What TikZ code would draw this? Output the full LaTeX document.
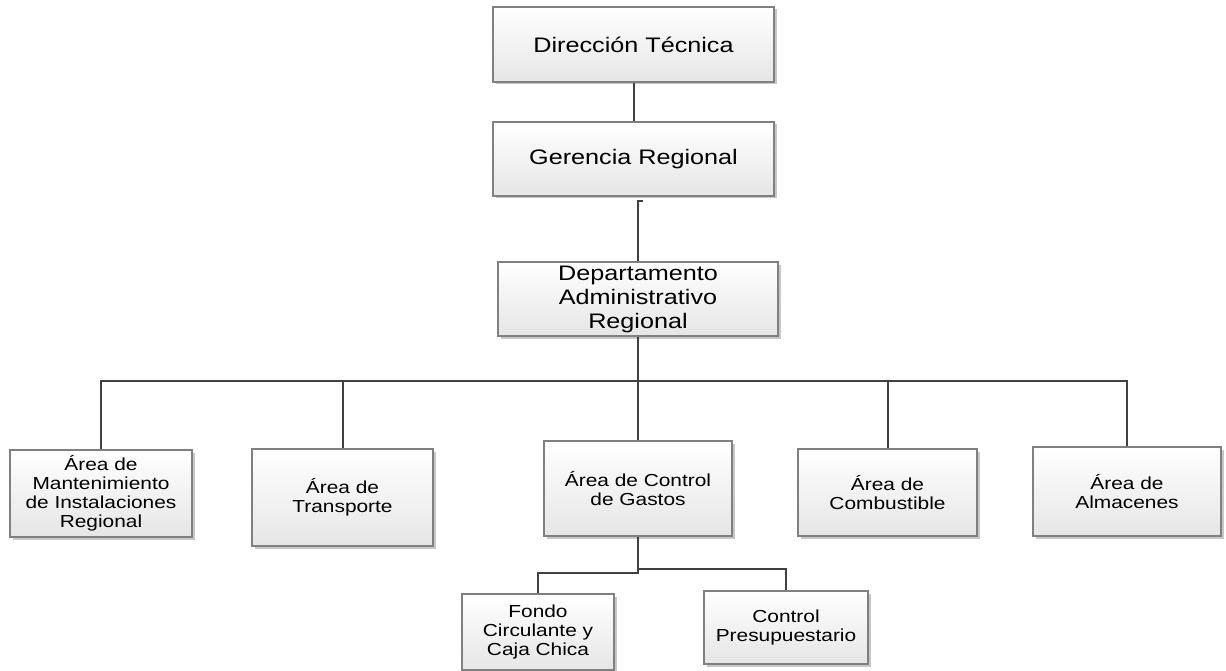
\documentclass[tikz,border=0pt]{standalone}
\usepackage{fontspec}
\newfontfamily\dfont[FakeStretch=1.2]{Liberation Sans}
\usetikzlibrary{shadows}
\definecolor{boxline}{HTML}{808080}
\definecolor{connline}{HTML}{404040}
\tikzset{
  orgbox/.style={draw=boxline, line width=1.1pt, top color=white, bottom color=black!10,
    align=center, inner sep=2pt, text=black,
    drop shadow={shadow xshift=2.5pt, shadow yshift=-2.5pt, fill=black!22, opacity=1}},
  bigbox/.style={orgbox, font=\dfont\fontsize{21}{24}\selectfont},
  smallbox/.style={orgbox, font=\dfont\fontsize{17.4}{19}\selectfont},
  conn/.style={draw=connline, line width=2pt}
}
\begin{document}
\begin{tikzpicture}[x=1pt,y=-1pt]
\useasboundingbox (0,0) rectangle (1226,671);
\fill[white] (0,0) rectangle (1226,671);
% top
\node[bigbox, minimum width=281pt, minimum height=75pt] (dt) at (633.5,44.5) {Dirección Técnica};
\node[bigbox, minimum width=281pt, minimum height=74pt] (gr) at (633.5,159) {Gerencia Regional};
\node[bigbox, minimum width=280pt, minimum height=74pt] (dep) at (638,299) {Departamento\\Administrativo\\Regional};
% areas
\node[smallbox, minimum width=182pt, minimum height=87pt] (mant) at (101,493.5) {Área de\\Mantenimiento\\de Instalaciones\\Regional};
\node[smallbox, minimum width=181pt, minimum height=97pt] (trans) at (342.5,497.5) {Área de\\Transporte};
\node[smallbox, minimum width=188pt, minimum height=95pt] (cg) at (638,488.5) {Área de Control\\de Gastos};
\node[smallbox, minimum width=179pt, minimum height=87pt] (comb) at (887.5,492.5) {Área de\\Combustible};
\node[smallbox, minimum width=188pt, minimum height=89pt] (alm) at (1127,491.5) {Área de\\Almacenes};
% bottom
\node[smallbox, minimum width=152pt, minimum height=76pt] (fondo) at (538,632) {Fondo\\Circulante y\\Caja Chica};
\node[smallbox, minimum width=164pt, minimum height=73pt] (cp) at (786,627.5) {Control\\Presupuestario};
% connectors
\coordinate (g1) at (643,201);
\coordinate (bus) at (638,381);
\coordinate (j1) at (638,573);
\coordinate (j2) at (638,569);
\draw[conn] (dt.south) -- (gr.north);
\draw[conn] (g1) -| (dep.north);
\draw[conn] (dep.south) -- (cg.north);
\draw[conn] (mant.north) -- (mant.north |- bus) -- (alm.north |- bus) -- (alm.north);
\draw[conn] (trans.north) -- (trans.north |- bus);
\draw[conn] (comb.north) -- (comb.north |- bus);
\draw[conn] (cg.south) -- (j1) -| (fondo.north);
\draw[conn] (j2) -| (cp.north);
\end{tikzpicture}
\end{document}
